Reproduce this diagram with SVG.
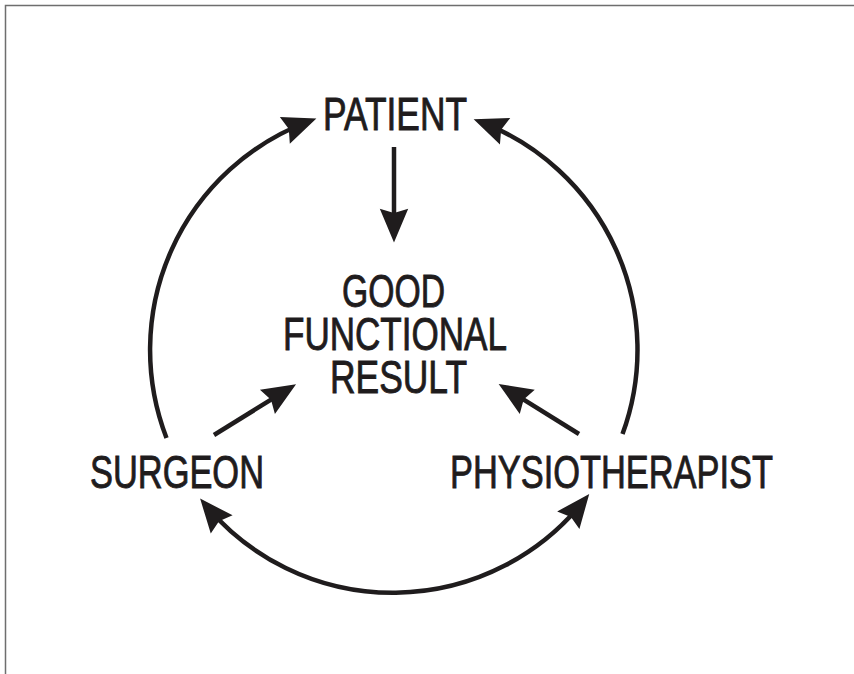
<svg xmlns="http://www.w3.org/2000/svg" width="854" height="674" viewBox="0 0 854 674">
  <style>
    .lbl { font-family: "Liberation Sans Narrow", "Liberation Sans", Arial, sans-serif; font-size: 46px; fill: #1f1c1d; stroke: #1f1c1d; stroke-width: 0.9; }
    .conn { fill: none; stroke: #1f1c1d; stroke-width: 4.5; }
    .frame { stroke: #6e6e6e; stroke-width: 1.5; fill: none; }
  </style>
  <defs>
    <marker id="arrow" markerUnits="userSpaceOnUse" markerWidth="40" markerHeight="40" viewBox="-2 -16 38 32" refX="24" refY="0" orient="auto-start-reverse">
      <path d="M32,0 L0,-13.5 L4,0 L0,13.5 z" fill="#1f1c1d"/>
    </marker>
  </defs>

  <path class="frame" d="M5.5,674 L5.5,5.5 L854,5.5"/>

  <g id="connectors">
    <path class="conn" d="M394,147 L394,234" marker-end="url(#arrow)"/>
    <path class="conn" d="M214,435 L288.9,388.6" marker-end="url(#arrow)"/>
    <path class="conn" d="M579,434 L505.8,388.5" marker-end="url(#arrow)"/>
    <path class="conn" d="M166.5,438 A244,244 0 0 1 308.5,121.5" marker-end="url(#arrow)"/>
    <path class="conn" d="M622.5,434 A244,244 0 0 0 481.5,122.2" marker-end="url(#arrow)"/>
    <path class="conn" d="M584,500.5 A244,244 0 0 1 205.5,505" marker-start="url(#arrow)" marker-end="url(#arrow)"/>
  </g>

  <g id="node-patient">
    <text class="lbl" x="323" y="130" textLength="144" lengthAdjust="spacingAndGlyphs">PATIENT</text>
  </g>
  <g id="node-result">
    <text class="lbl" x="342" y="307" textLength="103" lengthAdjust="spacingAndGlyphs">GOOD</text>
    <text class="lbl" x="283" y="350" textLength="224" lengthAdjust="spacingAndGlyphs">FUNCTIONAL</text>
    <text class="lbl" x="330" y="393" textLength="137" lengthAdjust="spacingAndGlyphs">RESULT</text>
  </g>
  <g id="node-surgeon">
    <text class="lbl" x="90" y="488" textLength="174" lengthAdjust="spacingAndGlyphs">SURGEON</text>
  </g>
  <g id="node-physiotherapist">
    <text class="lbl" x="450" y="488" textLength="323" lengthAdjust="spacingAndGlyphs">PHYSIOTHERAPIST</text>
  </g>
</svg>
